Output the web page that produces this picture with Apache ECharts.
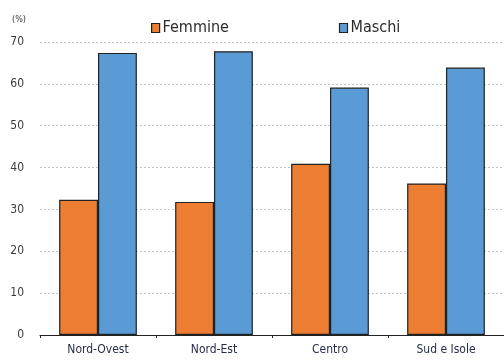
<!DOCTYPE html>
<html><head><meta charset="utf-8">
<script src="https://cdn.jsdelivr.net/npm/echarts@6/dist/echarts.min.js"></script>
<style>html,body{margin:0;padding:0;background:#fff}#c{width:504px;height:361px}</style>
</head><body><div id="c"></div>
<script>
const categories = ["Nord-Ovest", "Nord-Est", "Centro", "Sud e Isole"];
const femmine = [32.3, 31.8, 40.9, 36.2];
const maschi = [67.4, 67.8, 59.1, 63.9];
const yTicks = [0, 10, 20, 30, 40, 50, 60, 70];

const chart = echarts.init(document.getElementById('c'));
const font = "'Liberation Sans Narrow', 'DejaVu Sans Condensed', 'Liberation Sans', sans-serif";
chart.setOption({
  animation: false,
  textStyle: {fontFamily: font},
  grid: {left: 40, right: -2, top: 42, bottom: 26},
  legend: {
    data: [
      {name: 'Femmine', itemStyle: {color: '#ED7D31', borderColor: '#222', borderWidth: 1.2}},
      {name: 'Maschi', itemStyle: {color: '#5B9BD5', borderColor: '#222', borderWidth: 1.2}}
    ],
    top: 15, left: 146, itemGap: 110, itemWidth: 8, itemHeight: 9,
    icon: 'rect',
    textStyle: {fontSize: 16, color: '#2b2b2b', fontFamily: font, padding: [0,0,0,-2]}
  },
  xAxis: {
    type: 'category', data: categories,
    axisLine: {lineStyle: {color: '#222', width: 1.2}},
    axisTick: {show: true, length: 3, lineStyle: {color: '#222'}},
    axisLabel: {fontSize: 12, color: '#1f2a44', margin: 9, fontFamily: font}
  },
  yAxis: {
    type: 'value', min: 0, max: 70, interval: 10,
    name: '(%)', nameLocation: 'end', nameGap: 18,
    nameTextStyle: {fontSize: 9, color: '#3a3a3a', align: 'right', padding: [0, 14, 0, 0]},
    axisLine: {show: false}, axisTick: {show: false},
    axisLabel: {fontSize: 12, color: '#3a3a3a', margin: 16,
      formatter: v => yTicks.includes(v) ? String(v) : ''},
    splitLine: {lineStyle: {color: '#c4c4c4', type: [2, 2], width: 1}}
  },
  series: [
    {name: 'Femmine', type: 'bar', data: femmine, barGap: '0%', barCategoryGap: '33%',
     itemStyle: {color: '#ED7D31', borderColor: '#222', borderWidth: 1.2}},
    {name: 'Maschi', type: 'bar', data: maschi,
     itemStyle: {color: '#5B9BD5', borderColor: '#222', borderWidth: 1.2}}
  ]
});
</script></body></html>
